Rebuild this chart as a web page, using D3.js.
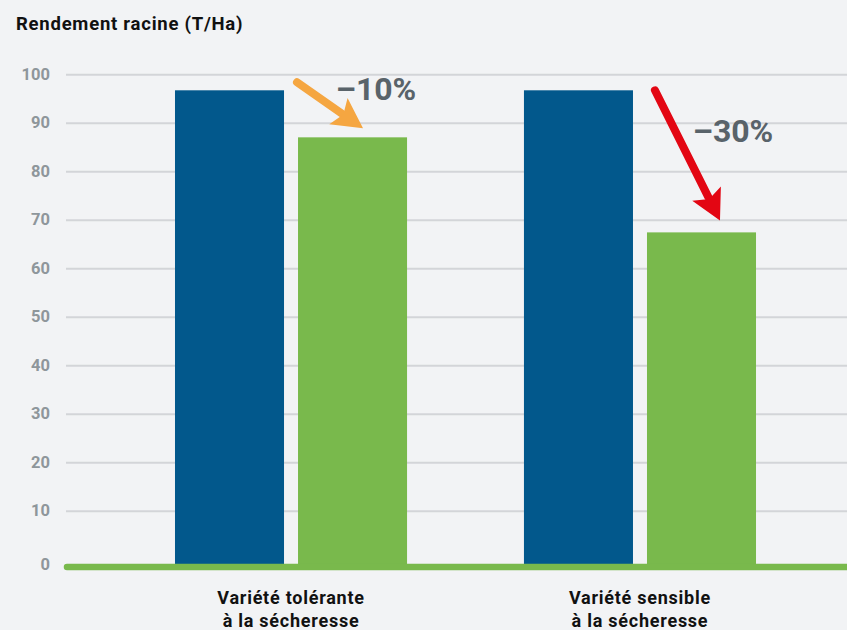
<!DOCTYPE html>
<html>
<head>
<meta charset="utf-8">
<script src="https://cdn.jsdelivr.net/npm/d3@7"></script>
<style>
  html, body { margin: 0; padding: 0; background: #f2f3f5; }
  svg { display: block; font-family: Roboto, "Noto Sans", sans-serif; }
</style>
</head>
<body>
<svg id="chart" width="847" height="630"></svg>
<script>
// Root yield per variety, in t/ha
const categories = ["Variété tolérante\nà la sécheresse", "Variété sensible\nà la sécheresse"];
const seriesNames = ["Conditions normales", "Sécheresse"];
const normalValues = [96.7, 96.7];
const droughtValues = [87.0, 67.4];
const lossLabels = ["–10%", "–30%"];
const yTicks = [0, 10, 20, 30, 40, 50, 60, 70, 80, 90, 100];

const seriesColors = ["#02588c", "#79b94c"];
const arrowColors = ["#f5a641", "#e30613"];

const W = 847, H = 630;
const svg = d3.select("#chart");
svg.append("rect").attr("width", W).attr("height", H).attr("fill", "#f2f3f5");

const gridLeft = 66;
const y = d3.scaleLinear().domain([0, 100]).range([559.2, 74.3]);
const baseY = 567;

const x0 = d3.scaleBand().domain(categories).range([116.5, 814.5])
  .paddingInner(0.335).paddingOuter(0.1676);
const x1 = d3.scaleBand().domain(seriesNames).range([0, x0.bandwidth()])
  .paddingInner(0.1138);

// Title
svg.append("text").attr("x", 16).attr("y", 30)
  .attr("font-size", 18.5).attr("font-weight", 700).attr("fill", "#111")
  .attr("letter-spacing", 0.75)
  .text("Rendement racine (T/Ha)");

// Y axis with gridlines
const axis = svg.append("g").attr("transform", `translate(${gridLeft},0)`)
  .call(d3.axisLeft(y).tickValues(yTicks).tickSize(-(W - gridLeft)).tickPadding(16));
axis.select(".domain").remove();
axis.selectAll(".tick line").attr("stroke", "#d3d5d8").attr("stroke-width", 2)
  .filter(d => d === 0).remove();
axis.selectAll(".tick text").attr("font-size", 16.5).attr("font-weight", 700)
  .attr("fill", "#8e969b").attr("font-family", "Roboto, sans-serif")
  .attr("dy", d => d === 0 ? "0.62em" : "0.3em");

// Bars
const rows = categories.map((c, i) => ({ cat: c, vals: [normalValues[i], droughtValues[i]] }));
const groups = svg.append("g").selectAll("g").data(rows).join("g")
  .attr("transform", d => `translate(${x0(d.cat)},0)`);
groups.selectAll("rect").data(d => d.vals.map((v, j) => ({ v, s: seriesNames[j], j })))
  .join("rect")
  .attr("x", d => x1(d.s))
  .attr("y", d => y(d.v))
  .attr("width", x1.bandwidth())
  .attr("height", d => baseY - y(d.v))
  .attr("fill", d => seriesColors[d.j]);

// Baseline
svg.append("line").attr("x1", 67).attr("x2", W + 5).attr("y1", baseY).attr("y2", baseY)
  .attr("stroke", "#79b94c").attr("stroke-width", 6.5).attr("stroke-linecap", "round");

// Category labels
rows.forEach(d => {
  const cx = x0(d.cat) + x0.bandwidth() / 2;
  const t = svg.append("text").attr("x", cx).attr("y", 604)
    .attr("text-anchor", "middle").attr("font-size", 18).attr("font-weight", 700).attr("fill", "#111")
    .attr("letter-spacing", 0.75);
  d.cat.split("\n").forEach((line, k) => {
    t.append("tspan").attr("x", cx).attr("dy", k === 0 ? 0 : 23).text(line);
  });
});

// Arrows showing the drop from normal to drought yield
const arrowDefs = [
  { tail: [x0(categories[0]) + x1(seriesNames[1]) - 1, y(normalValues[0]) - 8],
    tip:  [x0(categories[0]) + x1(seriesNames[1]) + 65, y(droughtValues[0]) - 9],
    label: [376, 100] },
  { tail: [x0(categories[1]) + x1(seriesNames[0]) + 131, y(normalValues[1])],
    tip:  [x0(categories[1]) + x1(seriesNames[1]) + 73, y(droughtValues[1]) - 12],
    label: [733, 142] }
];
arrowDefs.forEach((a, i) => {
  const [tx, ty] = a.tail, [hx, hy] = a.tip;
  const dx = hx - tx, dy = hy - ty, len = Math.hypot(dx, dy);
  const ux = dx / len, uy = dy / len, px = -uy, py = ux;
  const headLen = 30, headHalf = 16;
  const bx = hx - ux * headLen, by = hy - uy * headLen;
  svg.append("line").attr("x1", tx).attr("y1", ty).attr("x2", bx + ux * 4).attr("y2", by + uy * 4)
    .attr("stroke", arrowColors[i]).attr("stroke-width", 8).attr("stroke-linecap", "round");
  svg.append("path")
    .attr("d", `M${hx},${hy} L${bx + px * headHalf},${by + py * headHalf} L${bx + ux * 6},${by + uy * 6} L${bx - px * headHalf},${by - py * headHalf} Z`)
    .attr("fill", arrowColors[i]);
  svg.append("text").attr("x", a.label[0]).attr("y", a.label[1])
    .attr("text-anchor", "middle").attr("font-size", 32).attr("font-weight", 700)
    .attr("fill", "#59636a").text(lossLabels[i]);
});
</script>
</body>
</html>
